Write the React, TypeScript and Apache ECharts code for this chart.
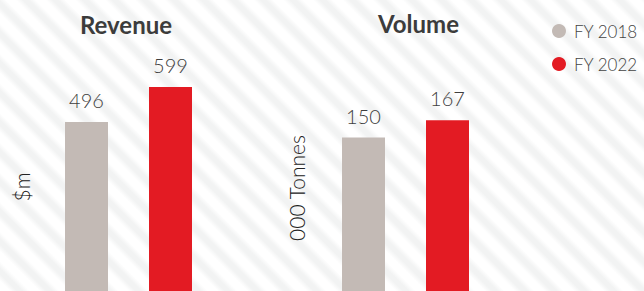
import React, { useEffect, useRef } from "react";
import * as echarts from "echarts";

const categories = ["FY 2018", "FY 2022"];
const seriesNames = ["FY 2018", "FY 2022"];
const revenueValues = [496, 599];
const volumeValues = [150, 167];
const titles = ["Revenue", "Volume"];
const axisNames = ["$m", "000 Tonnes"];
const colors = ["#c3bab5", "#e31b23"];

const FONT = "Lato, 'Open Sans', sans-serif";

export default function App() {
  const ref = useRef<HTMLDivElement>(null);
  useEffect(() => {
    document.body.style.margin = "0";
    if (!ref.current) return;
    const chart = echarts.init(ref.current, null, { renderer: "svg" });
    const label = {
      show: true,
      position: "top",
      distance: 12,
      fontSize: 20,
      fontWeight: 300,
      color: "#3f3f3f",
      fontFamily: FONT,
    };
    const mk = (grid: number, values: number[], stack: string) =>
      seriesNames.map((name, i) => ({
        name,
        type: "bar",
        xAxisIndex: grid,
        yAxisIndex: grid,
        stack,
        barWidth: 43,
        itemStyle: { color: colors[i] },
        label,
        data: categories.map((_, j) => (j === i ? values[j] : "-")),
      }));
    const hiddenY = {
      type: "value",
      min: 0,
      axisLine: { show: false },
      axisTick: { show: false },
      axisLabel: { show: false },
      splitLine: { show: false },
    };
    const hiddenX = {
      type: "category",
      data: categories,
      show: false,
    };
    const titleStyle = {
      fontSize: 24,
      fontWeight: "bold",
      fill: "#3c3c3c",
      fontFamily: FONT,
      textAlign: "center",
      textVerticalAlign: "middle",
    };
    const nameStyle = {
      fontSize: 21,
      fontWeight: 300,
      fill: "#222",
      fontFamily: FONT,
      textAlign: "center",
      textVerticalAlign: "middle",
    };
    chart.setOption({
      animation: false,
      backgroundColor: "transparent",
      grid: [
        { left: 44.5, width: 168, top: 52.6, bottom: 0 },
        { left: 321.5, width: 168, top: 35.25, bottom: 0 },
      ],
      xAxis: [
        { ...hiddenX, gridIndex: 0 },
        { ...hiddenX, gridIndex: 1 },
      ],
      yAxis: [
        { ...hiddenY, gridIndex: 0, max: 700 },
        { ...hiddenY, gridIndex: 1, max: 250 },
      ],
      legend: {
        data: seriesNames,
        orient: "vertical",
        left: 547,
        top: 17,
        icon: "circle",
        itemWidth: 14,
        itemHeight: 14,
        itemGap: 15,
        textStyle: {
          fontSize: 17,
          lineHeight: 18,
          fontWeight: 300,
          color: "#444",
          fontFamily: FONT,
          padding: [0, 0, 0, 3],
        },
      },
      graphic: [
        { type: "text", x: 126, y: 24.5, style: { ...titleStyle, text: titles[0] } },
        { type: "text", x: 418.5, y: 23, style: { ...titleStyle, text: titles[1] } },
        {
          type: "text",
          x: 21,
          y: 187,
          rotation: Math.PI / 2,
          style: { ...nameStyle, text: axisNames[0] },
        },
        {
          type: "text",
          x: 296,
          y: 188,
          rotation: Math.PI / 2,
          style: { ...nameStyle, text: axisNames[1] },
        },
      ],
      series: [...mk(0, revenueValues, "rev"), ...mk(1, volumeValues, "vol")],
    });
    return () => chart.dispose();
  }, []);
  return (
    <div
      ref={ref}
      style={{
        width: 644,
        height: 291,
        background:
          "repeating-linear-gradient(45deg, #ffffff 0px, #ffffff 7px, #f2f3f3 12px, #f2f3f3 16px, #ffffff 21px)",
      }}
    />
  );
}
